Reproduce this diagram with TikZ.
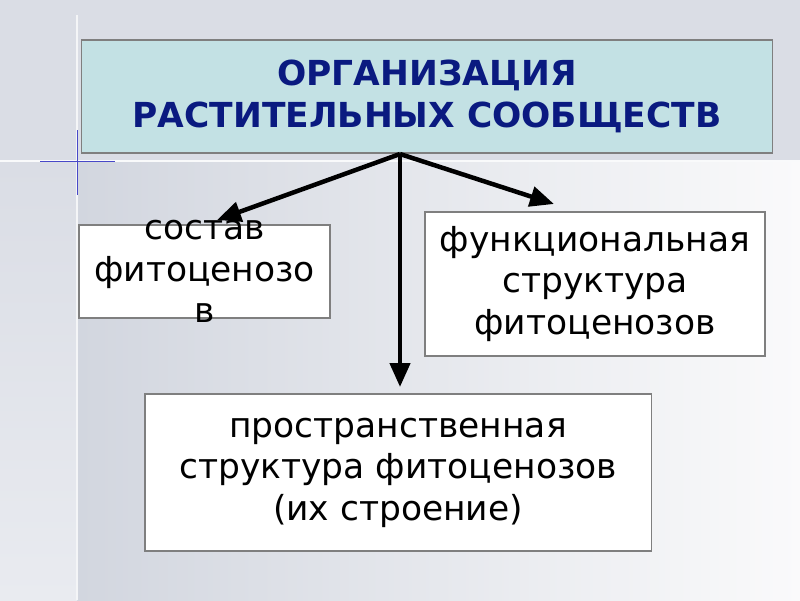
\documentclass[tikz,border=0pt]{standalone}
\usepackage{fontspec}
\setmainfont{DejaVu Sans}
\usetikzlibrary{arrows.meta,positioning,calc}
\definecolor{titleblue}{HTML}{0A1A80}
\definecolor{titlefill}{HTML}{C3E1E4}
\definecolor{boxline}{HTML}{7F7F7F}
\definecolor{slidetop}{HTML}{DADDE5}
\definecolor{slideleft}{HTML}{D2D6DF}
\definecolor{slideright}{HTML}{FAFAFB}
\definecolor{slidestrip}{HTML}{E9EBF0}
\definecolor{sparkle}{HTML}{4848C8}
\tikzset{
  slidebox/.style={draw=boxline, line width=0.8pt, rectangle, inner sep=0pt},
  titlebox/.style={slidebox, fill=titlefill, minimum width=17.25cm, minimum height=2.825cm},
  whitebox/.style={slidebox, fill=white},
  bodytext/.style={align=center, font=\fontsize{24.5}{29.5}\selectfont, text=black},
  titletext/.style={align=center, font=\fontsize{24.5}{30}\selectfont\bfseries, text=titleblue},
  orgarrow/.style={-{Triangle[length=6mm, width=5mm]}, line width=3.2pt, black},
}
\begin{document}
\begin{tikzpicture}[x=0.025cm, y=-0.025cm]
  % slide background
  \useasboundingbox (0,0) rectangle (800,600);
  \fill[slidetop] (0,0) rectangle (800,600);
  \shade[left color=slideleft, right color=slideright] (77,162) rectangle (800,600);
  \shade[top color=slidetop, bottom color=slidestrip] (0,162) rectangle (77,600);
  \draw[white!85!slidetop, line width=2pt] (0,161) -- (800,161);
  \draw[white!70!slidetop, line width=1pt] (77,15) -- (77,600);
  \draw[sparkle, line width=0.7pt] (40,161) -- (115,161);
  \draw[sparkle, line width=0.7pt] (77,130) -- (77,195);

  \node[titlebox] (org) at (427,96.5) {};
  \node[titletext] (orgtext) at (org.center) {ОРГАНИЗАЦИЯ\\РАСТИТЕЛЬНЫХ СООБЩЕСТВ};

  \node[whitebox, minimum width=6.275cm, minimum height=2.325cm] (sostav) at (204.5,271.5) {};
  \node[bodytext] (sostavtext) at (sostav.center) {состав\\фитоценозо\\в};

  \node[whitebox, minimum width=8.5cm, minimum height=3.6cm] (funk) at (595,284) {};
  \node[bodytext] (funktext) at (funk.center) {функциональная\\структура\\фитоценозов};

  \node[whitebox, minimum width=12.65cm, minimum height=3.925cm] (prostr) at (398,472.5) {};
  \node[bodytext] (prostrtext) at (prostr.center) {пространственная\\структура фитоценозов\\(их строение)};

  % arrows from the title box
  \coordinate (hub) at (400,154);
  \coordinate (tipleft) at (217,220);
  \coordinate (tipright) at (554,204);
  \coordinate (tipdown) at (400,387);
  \draw[orgarrow] (hub) -- (tipleft);
  \draw[orgarrow] (hub) -- (tipright);
  \draw[orgarrow] (hub) -- (tipdown);
\end{tikzpicture}
\end{document}
